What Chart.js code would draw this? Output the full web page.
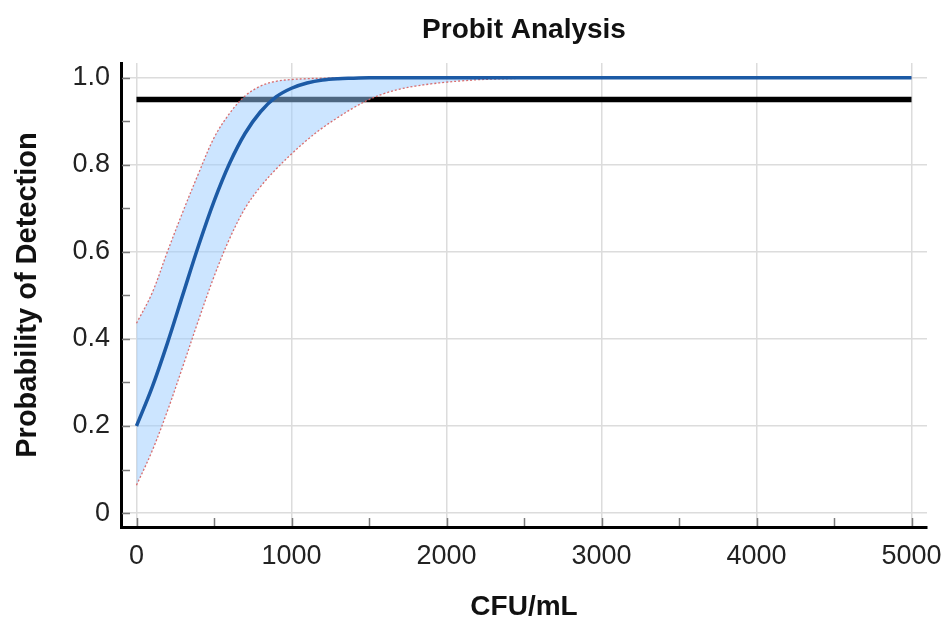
<!DOCTYPE html>
<html>
<head>
<meta charset="utf-8">
<script src="https://cdn.jsdelivr.net/npm/chart.js@4/dist/chart.umd.min.js"></script>
<style>
  html, body { margin: 0; padding: 0; background: #fff; }
  #wrap { width: 945px; height: 620px; }
</style>
</head>
<body>
<div id="wrap"><canvas id="c" width="945" height="620"></canvas></div>
<script>
// ---- data ----
const titleText = 'Probit Analysis';
const xTitle = 'CFU/mL';
const yTitle = 'Probability of Detection';

const cfu = [0,100,200,300,400,500,600,700,800,900,1000,1100,1200,1300,1400,1500,1600,1700,1800,1900,2000,2100,2200,2300,2400,2500,5000];
const probability = [0.200,0.288,0.391,0.503,0.614,0.716,0.803,0.872,0.922,0.956,0.976,0.988,0.995,0.998,0.999,1.0,1.0,1.0,1.0,1.0,1.0,1.0,1.0,1.0,1.0,1.0,1.0];
const upperCI = [0.436,0.505,0.601,0.693,0.780,0.862,0.918,0.958,0.981,0.992,0.996,0.998,0.999,1.0,1.0,1.0,1.0,1.0,1.0,1.0,1.0,1.0,1.0,1.0,1.0,1.0,1.0];
const lowerCI = [0.064,0.142,0.235,0.338,0.443,0.543,0.630,0.700,0.750,0.790,0.825,0.857,0.885,0.909,0.931,0.950,0.964,0.974,0.981,0.986,0.990,0.993,0.9955,0.997,0.998,0.999,1.0];

const thresholdX = [0, 5000];
const thresholdY = [0.95, 0.95];

const xTickValues = [0,500,1000,1500,2000,2500,3000,3500,4000,4500,5000];
const xMajorTicks = [0,1000,2000,3000,4000,5000];
const xTickLabels = ['0','1000','2000','3000','4000','5000'];
const yTickValues = [0,0.1,0.2,0.3,0.4,0.5,0.6,0.7,0.8,0.9,1.0];
const yMajorTicks = [0,0.2,0.4,0.6,0.8,1.0];
const yTickLabels = ['0','0.2','0.4','0.6','0.8','1.0'];

// ---- helpers ----
const pts = (xs, ys) => xs.map((x, i) => ({x: x, y: ys[i]}));
const majorIndex = (list, v) => list.findIndex(m => Math.abs(m - v) < 1e-6);

const FONT = "'Liberation Sans', Arial, sans-serif";

const innerTicks = {
  id: 'innerTicks',
  afterDraw(chart) {
    const {ctx, chartArea, scales} = chart;
    ctx.save();
    ctx.strokeStyle = '#7a7a7a';
    ctx.lineWidth = 1.5;
    scales.x.ticks.forEach(t => {
      const px = Math.round(scales.x.getPixelForValue(t.value)) + 0.5;
      ctx.beginPath();
      ctx.moveTo(px, chartArea.bottom - 1);
      ctx.lineTo(px, chartArea.bottom - 9);
      ctx.stroke();
    });
    scales.y.ticks.forEach(t => {
      const py = Math.round(scales.y.getPixelForValue(t.value)) + 0.5;
      ctx.beginPath();
      ctx.moveTo(chartArea.left + 1, py);
      ctx.lineTo(chartArea.left + 9, py);
      ctx.stroke();
    });
    ctx.restore();
  }
};

const curveStyle = { pointRadius: 0, tension: 0.35 };
const noSidePadding = (scale) => { scale.paddingLeft = 0; scale.paddingRight = 0; };

new Chart(document.getElementById('c'), {
  type: 'line',
  data: {
    datasets: [
      Object.assign({
        label: 'Threshold',
        data: pts(thresholdX, thresholdY),
        borderColor: '#000000',
        borderWidth: 5.5,
        fill: false,
        order: 10
      }, { pointRadius: 0, tension: 0 }),
      Object.assign({
        label: 'Upper',
        data: pts(cfu, upperCI),
        borderColor: 'rgba(215,95,95,0.9)',
        borderWidth: 1.3,
        borderDash: [2, 2],
        fill: {target: '+1'},
        backgroundColor: 'rgba(153,204,255,0.5)',
        order: 6
      }, curveStyle),
      Object.assign({
        label: 'Lower',
        data: pts(cfu, lowerCI),
        borderColor: 'rgba(215,95,95,0.9)',
        borderWidth: 1.3,
        borderDash: [2, 2],
        fill: false,
        order: 5
      }, curveStyle),
      Object.assign({
        label: 'Probit',
        data: pts(cfu, probability),
        borderColor: '#1c5aa5',
        borderWidth: 3.5,
        fill: false,
        order: 1
      }, curveStyle)
    ]
  },
  options: {
    responsive: false,
    animation: false,
    events: [],
    layout: { padding: { left: 0, right: 18, top: 0, bottom: 0 } },
    plugins: {
      legend: { display: false },
      tooltip: { enabled: false },
      title: { display: false }
    },
    scales: {
      x: {
        type: 'linear',
        position: 'bottom',
        min: -100,
        max: 5100,
        afterFit(scale) { scale.height = 93; noSidePadding(scale); },
        afterBuildTicks(scale) { scale.ticks = xTickValues.map(v => ({value: v})); },
        ticks: {
          autoSkip: false,
          maxRotation: 0,
          padding: 13,
          color: '#222',
          font: { family: FONT, size: 27 },
          callback: (v) => { const i = majorIndex(xMajorTicks, v); return i >= 0 ? xTickLabels[i] : ''; }
        },
        grid: {
          drawTicks: false,
          lineWidth: 1.5,
          color: (ctx) => (ctx.tick && majorIndex(xMajorTicks, ctx.tick.value) >= 0) ? '#dcdcdc' : 'rgba(0,0,0,0)'
        },
        border: { display: true, color: '#000', width: 3 },
        title: {
          display: true,
          text: xTitle,
          color: '#111',
          font: { family: FONT, size: 28, weight: 'bold', lineHeight: 0.9 },
          padding: { top: 0, bottom: 0 }
        }
      },
      xTop: {
        type: 'linear',
        position: 'top',
        display: true,
        min: -100,
        max: 5100,
        afterFit(scale) { scale.height = 63; noSidePadding(scale); },
        ticks: { display: false },
        grid: { display: false, drawTicks: false },
        border: { display: false },
        title: {
          display: true,
          text: titleText,
          color: '#111',
          font: { family: FONT, size: 28, weight: 'bold' },
          padding: { top: 13, bottom: 0 }
        }
      },
      y: {
        type: 'linear',
        min: -0.032,
        max: 1.034,
        afterFit(scale) { scale.width = 121; scale.paddingTop = 0; scale.paddingBottom = 0; },
        afterBuildTicks(scale) { scale.ticks = yTickValues.map(v => ({value: v})); },
        ticks: {
          autoSkip: false,
          padding: 11,
          color: '#222',
          font: { family: FONT, size: 27 },
          callback: (v) => { const i = majorIndex(yMajorTicks, v); return i >= 0 ? yTickLabels[i] : ''; }
        },
        grid: {
          drawTicks: false,
          lineWidth: 1.5,
          color: (ctx) => (ctx.tick && majorIndex(yMajorTicks, ctx.tick.value) >= 0) ? '#dcdcdc' : 'rgba(0,0,0,0)'
        },
        border: { display: true, color: '#000', width: 3 },
        title: {
          display: true,
          text: yTitle,
          color: '#111',
          font: { family: FONT, size: 29, weight: 'bold' },
          padding: { top: 11, bottom: 0 }
        }
      }
    }
  },
  plugins: [innerTicks]
});
</script>
</body>
</html>
